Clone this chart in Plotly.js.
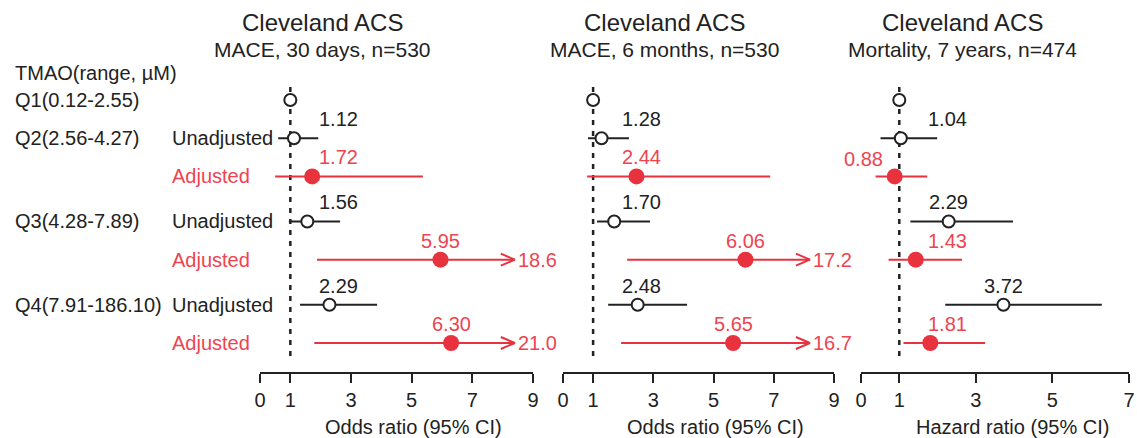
<!DOCTYPE html>
<html><head><meta charset="utf-8">
<script src="https://cdn.plot.ly/plotly-3.0.1.min.js"></script>
<style>html,body{margin:0;padding:0;background:#fff}#chart{width:1137px;height:438px}</style>
</head><body><div id="chart"></div>
<script>
// ---------- data ----------
const quartileLabels = ['Q1(0.12-2.55)', 'Q2(2.56-4.27)', 'Q3(4.28-7.89)', 'Q4(7.91-186.10)'];
const headerLabel = 'TMAO(range, \u00b5M)';
const modelLabels = ['Unadjusted', 'Adjusted'];
const panelTitles = ['Cleveland ACS', 'Cleveland ACS', 'Cleveland ACS'];
const panelSubtitles = ['MACE, 30 days, n=530', 'MACE, 6 months, n=530', 'Mortality, 7 years, n=474'];
const axisTitles = ['Odds ratio (95% CI)', 'Odds ratio (95% CI)', 'Hazard ratio (95% CI)'];
const axisMax = [9, 9, 7];
const tickValues = [[0, 1, 3, 5, 7, 9], [0, 1, 3, 5, 7, 9], [0, 1, 3, 5, 7]];
const referenceValue = 1; // Q1 reference

// Panel 1: MACE, 30 days (Q2, Q3, Q4)
const p1UnadjEst = [1.12, 1.56, 2.29];
const p1UnadjLow = [0.60, 0.95, 1.32];
const p1UnadjHigh = [1.92, 2.64, 3.86];
const p1AdjEst = [1.72, 5.95, 6.30];
const p1AdjLow = [0.50, 1.88, 1.79];
const p1AdjHigh = [5.37, 18.6, 21.0];

// Panel 2: MACE, 6 months
const p2UnadjEst = [1.28, 1.70, 2.48];
const p2UnadjLow = [0.83, 1.13, 1.50];
const p2UnadjHigh = [2.19, 2.89, 4.12];
const p2AdjEst = [2.44, 6.06, 5.65];
const p2AdjLow = [0.80, 2.13, 1.93];
const p2AdjHigh = [6.88, 17.2, 16.7];

// Panel 3: Mortality, 7 years
const p3UnadjEst = [1.04, 2.29, 3.72];
const p3UnadjLow = [0.51, 1.29, 2.20];
const p3UnadjHigh = [1.99, 3.97, 6.29];
const p3AdjEst = [0.88, 1.43, 1.81];
const p3AdjLow = [0.38, 0.72, 1.11];
const p3AdjHigh = [1.73, 2.64, 3.24];

// ---------- layout constants ----------
const W = 1137, H = 438;
const M = {l: 260, r: 8, t: 87, b: 66};
const plotW = W - M.l - M.r;
const plotH = H - M.t - M.b;
const panelPx = [[260, 533], [563, 834], [861, 1129]];
const titleCenterPx = [322, 664, 962];
const arrowTip = [8.4, 8.2, 7];
const groupGap = 0.18;
const yTop = -0.34, yBottom = 7.12;
const yPerPx = (yBottom - yTop) / plotH;
const FONT = 'Liberation Sans, Arial, sans-serif';
const BLACK = '#222222';
const RED = '#e8323e';
const RED_TXT = '#ee4450';

const panels = [
  {uE: p1UnadjEst, uL: p1UnadjLow, uH: p1UnadjHigh, aE: p1AdjEst, aL: p1AdjLow, aH: p1AdjHigh},
  {uE: p2UnadjEst, uL: p2UnadjLow, uH: p2UnadjHigh, aE: p2AdjEst, aL: p2AdjLow, aH: p2AdjHigh},
  {uE: p3UnadjEst, uL: p3UnadjLow, uH: p3UnadjHigh, aE: p3AdjEst, aL: p3AdjLow, aH: p3AdjHigh}
];

// row positions: Q1 = 0, then unadjusted/adjusted per quartile with a small gap between groups
const rowUnadj = [0, 1, 2].map(g => 1 + g * (2 + groupGap));
const rowAdj = rowUnadj.map(r => r + 1);

const toPaper = px => (px - M.l) / plotW;
const toPaperY = px => (H - M.b - px) / plotH;

const traces = [];
const annotations = [];
const shapes = [];
const layout = {
  width: W, height: H,
  margin: M,
  paper_bgcolor: '#fff', plot_bgcolor: '#fff',
  showlegend: false,
  font: {family: FONT, size: 20, color: BLACK},
  yaxis: {range: [yBottom, yTop], visible: false, fixedrange: true, domain: [0, 1]},
  annotations: annotations,
  shapes: shapes
};

panels.forEach((p, i) => {
  const xa = i === 0 ? 'x' : 'x' + (i + 1);
  const axKey = i === 0 ? 'xaxis' : 'xaxis' + (i + 1);
  const dom = [toPaper(panelPx[i][0]), toPaper(panelPx[i][1])];
  const scale = (panelPx[i][1] - panelPx[i][0]) / axisMax[i];
  layout[axKey] = {
    domain: dom, range: [0, axisMax[i]], anchor: 'y',
    showline: true, linewidth: 2, linecolor: BLACK,
    ticks: 'outside', ticklen: 9, tickwidth: 2, tickcolor: BLACK,
    tickmode: 'array', tickvals: tickValues[i], ticktext: tickValues[i].map(String),
    tickfont: {family: FONT, size: 20, color: BLACK},
    ticklabelstandoff: 0,
    showgrid: false, zeroline: false, fixedrange: true
  };

  // reference dashed line at 1
  shapes.push({type: 'line', xref: xa, yref: 'y', x0: referenceValue, x1: referenceValue,
    y0: yTop, y1: 6.75, line: {color: BLACK, width: 2.5, dash: '5px,6px'}, layer: 'below'});

  // CI lines (+ open arrowheads when the upper limit is beyond the axis)
  const ux = [], uy = [], ax = [], ay = [];
  const headDx = 14 / scale, headDy = 6 * yPerPx;
  p.uE.forEach((v, k) => { ux.push(p.uL[k], Math.min(p.uH[k], axisMax[i]), null); uy.push(rowUnadj[k], rowUnadj[k], null); });
  p.aE.forEach((v, k) => {
    const over = p.aH[k] > axisMax[i];
    const hi = over ? arrowTip[i] : p.aH[k];
    ax.push(p.aL[k], hi, null); ay.push(rowAdj[k], rowAdj[k], null);
    if (over) {
      ax.push(hi - headDx, hi, hi - headDx, null);
      ay.push(rowAdj[k] - headDy, rowAdj[k], rowAdj[k] + headDy, null);
      annotations.push({xref: xa, yref: 'y', x: hi, y: rowAdj[k], xanchor: 'left', yanchor: 'middle',
        xshift: 1, text: p.aH[k].toFixed(1), showarrow: false, font: {family: FONT, size: 20, color: RED_TXT}});
    }
  });
  traces.push({type: 'scatter', mode: 'lines', xaxis: xa, yaxis: 'y', x: ux, y: uy,
    line: {color: BLACK, width: 2}, hoverinfo: 'skip', cliponaxis: false});
  traces.push({type: 'scatter', mode: 'lines', xaxis: xa, yaxis: 'y', x: ax, y: ay,
    line: {color: RED, width: 2}, hoverinfo: 'skip', cliponaxis: false});

  // markers
  traces.push({type: 'scatter', mode: 'markers', xaxis: xa, yaxis: 'y',
    x: [referenceValue].concat(p.uE), y: [0].concat(rowUnadj),
    marker: {symbol: 'circle', size: 12, color: '#ffffff', line: {color: BLACK, width: 2}}, cliponaxis: false});
  traces.push({type: 'scatter', mode: 'markers', xaxis: xa, yaxis: 'y',
    x: p.aE, y: rowAdj, marker: {symbol: 'circle', size: 16, color: RED, line: {width: 0}}, cliponaxis: false});

  // value labels
  const minLabel = referenceValue + 48 / scale;
  const addLabel = (v, row, color) => {
    if (v < referenceValue) {
      annotations.push({xref: xa, yref: 'y', x: v, y: row, xanchor: 'right', yanchor: 'middle',
        xshift: -10, yshift: 17, text: v.toFixed(2), showarrow: false, font: {family: FONT, size: 20, color: color}});
    } else {
      annotations.push({xref: xa, yref: 'y', x: Math.max(v, minLabel), y: row, xanchor: 'center', yanchor: 'middle',
        yshift: 19, text: v.toFixed(2), showarrow: false, font: {family: FONT, size: 20, color: color}});
    }
  };
  p.uE.forEach((v, k) => addLabel(v, rowUnadj[k], BLACK));
  p.aE.forEach((v, k) => addLabel(v, rowAdj[k], RED_TXT));

  // panel titles
  annotations.push({xref: 'paper', yref: 'paper', x: toPaper(titleCenterPx[i]), y: toPaperY(23),
    xanchor: 'center', yanchor: 'middle', text: panelTitles[i], showarrow: false,
    font: {family: FONT, size: 24, color: BLACK}});
  annotations.push({xref: 'paper', yref: 'paper', x: toPaper(titleCenterPx[i]), y: toPaperY(49),
    xanchor: 'center', yanchor: 'middle', text: panelSubtitles[i], showarrow: false,
    font: {family: FONT, size: 21, color: BLACK}});
  // axis titles
  annotations.push({xref: xa + ' domain', yref: 'paper', x: 0.5, y: 0, xshift: 17, yshift: -55,
    xanchor: 'center', yanchor: 'middle', text: axisTitles[i], showarrow: false,
    font: {family: FONT, size: 20, color: BLACK}});
});

// row labels on the left
annotations.push({xref: 'paper', yref: 'paper', x: toPaper(13), y: toPaperY(73), xanchor: 'left', yanchor: 'middle',
  text: headerLabel, showarrow: false, font: {family: FONT, size: 20, color: BLACK}});
quartileLabels.forEach((q, g) => {
  const row = g === 0 ? 0 : rowUnadj[g - 1];
  annotations.push({xref: 'paper', yref: 'y', x: toPaper(13), y: row, xanchor: 'left', yanchor: 'middle',
    text: q, showarrow: false, font: {family: FONT, size: 20, color: BLACK}});
  if (g > 0) {
    annotations.push({xref: 'paper', yref: 'y', x: toPaper(170), y: rowUnadj[g - 1], xanchor: 'left', yanchor: 'middle',
      text: modelLabels[0], showarrow: false, font: {family: FONT, size: 20, color: BLACK}});
    annotations.push({xref: 'paper', yref: 'y', x: toPaper(170), y: rowAdj[g - 1], xanchor: 'left', yanchor: 'middle',
      text: modelLabels[1], showarrow: false, font: {family: FONT, size: 20, color: RED_TXT}});
  }
});

Plotly.newPlot('chart', traces, layout, {staticPlot: true, displayModeBar: false});
</script>
</body></html>
